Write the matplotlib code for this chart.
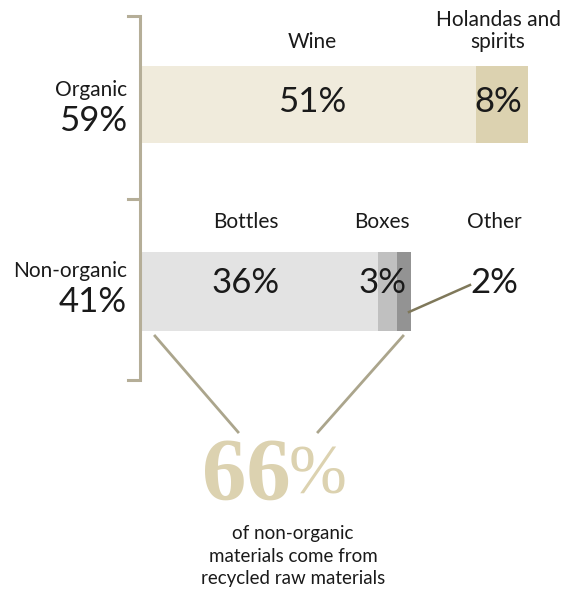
import matplotlib.pyplot as plt

plt.rcParams['font.family'] = ['Lato', 'DejaVu Sans']

# composition of materials (%)
groups = ['Organic', 'Non-organic']
group_totals = ['59%', '41%']
organic_labels = ['Wine', 'Holandas and\nspirits']
organic_values = [51, 8]
organic_colors = ['#f0ebdc', '#dcd2b0']
nonorganic_labels = ['Bottles', 'Boxes', 'Other']
nonorganic_values = [36, 3, 2]
nonorganic_colors = ['#e3e3e3', '#c0c0c0', '#939393']
recycled_share = 66
recycled_text = 'of non-organic\nmaterials come from\nrecycled raw materials'

W, H = 564, 593
BAR_X0 = 142
PX_PER_PCT = 6.55

fig = plt.figure(figsize=(W / 100, H / 100), dpi=100)
fig.patch.set_facecolor('white')

# bar axes: x in percent, y in pixel rows
total = sum(organic_values) + sum(nonorganic_values)
bax = fig.add_axes([BAR_X0 / W, 0, total * PX_PER_PCT / W, 1])
bax.set_xlim(0, total)
bax.set_ylim(H, 0)
bax.axis('off')
bax.set_zorder(1)

# overlay axes in pixel units for text and lines
ax = fig.add_axes([0, 0, 1, 1])
ax.set_xlim(0, W)
ax.set_ylim(H, 0)
ax.axis('off')
ax.patch.set_alpha(0)
ax.set_zorder(2)

rows = [(104.5, 77, organic_values, organic_colors),
        (291.5, 79, nonorganic_values, nonorganic_colors)]
for yc, hgt, vals, cols in rows:
    left = 0
    for v, c in zip(vals, cols):
        bax.barh(yc, v, left=left, height=hgt, color=c, edgecolor='none')
        left += v

txt = '#1a1a1a'
LAB = 15
PCT = 25
# group labels
ax.text(127, 90, groups[0], ha='right', va='center', fontsize=LAB, color=txt)
ax.text(127, 121, group_totals[0], ha='right', va='center', fontsize=PCT, color=txt)
ax.text(127, 271, groups[1], ha='right', va='center', fontsize=LAB, color=txt)
ax.text(127, 302, group_totals[1], ha='right', va='center', fontsize=PCT, color=txt)

# segment labels
org_x = [312, 498]
ax.text(org_x[0], 42, organic_labels[0], ha='center', va='center', fontsize=LAB, color=txt)
ax.text(org_x[1], 31, organic_labels[1], ha='center', va='center', fontsize=LAB,
        color=txt, linespacing=1.1)
for x, v in zip(org_x, organic_values):
    ax.text(x, 102, f'{v}%', ha='center', va='center', fontsize=PCT, color=txt)

non_x = [246, 382, 494]
for x, lab, v in zip(non_x, nonorganic_labels, nonorganic_values):
    ax.text(x, 222, lab, ha='center', va='center', fontsize=LAB, color=txt)
    ax.text(x, 283, f'{v}%', ha='center', va='center', fontsize=PCT, color=txt)

# bracket
br = '#b5ae98'
ax.plot([128, 140, 140, 128], [16, 16, 380, 380], color=br, lw=2.2,
        solid_joinstyle='miter')
ax.plot([128, 140], [199, 199], color=br, lw=2.2)

# leader lines
ax.plot([409, 470], [312, 285], color='#7f785a', lw=1.8)
ax.plot([155, 238], [336, 432], color='#aba58c', lw=2)
ax.plot([403, 318], [336, 432], color='#aba58c', lw=2)

# highlight figure
gold = '#dcd2b0'
serif = ['Liberation Serif', 'DejaVu Serif']
ax.text(291, 477, f'{recycled_share}', ha='right', va='center', fontsize=64,
        fontweight='bold', family=serif, color=gold)
ax.text(289, 477, '%', ha='left', va='center', fontsize=50,
        family=serif, color=gold)
ax.text(293, 556, recycled_text, ha='center', va='center', fontsize=13.5,
        color=txt, linespacing=1.38)

fig.savefig('out.png', dpi=100)
